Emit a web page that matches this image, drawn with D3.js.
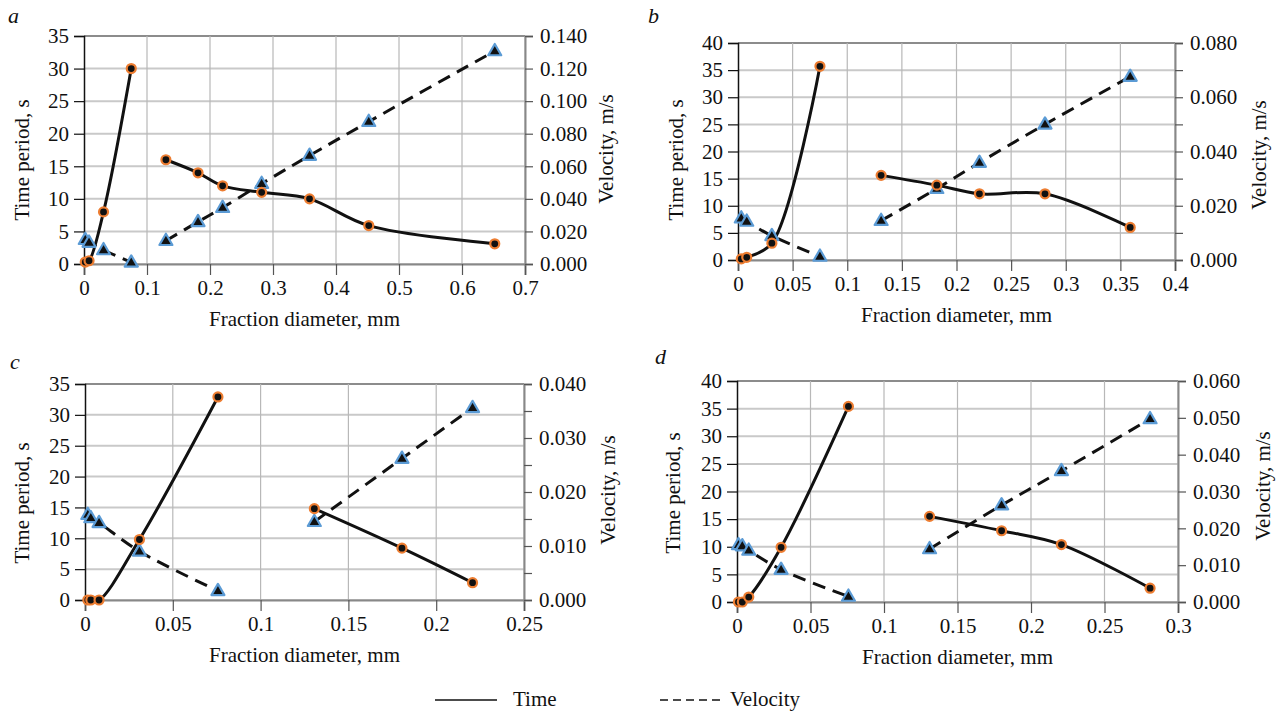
<!DOCTYPE html>
<html><head><meta charset="utf-8">
<script src="https://cdn.jsdelivr.net/npm/d3@7"></script>
<style>body{margin:0;background:#fff}svg{display:block}
svg text{font-family:"Liberation Serif","Tinos","Times New Roman","Nimbus Roman","DejaVu Serif",serif !important;fill:#111}</style>
</head><body><svg id="chart" width="1279" height="713"></svg>
<script>
// ---------- data ----------
const diameterA = [0.002, 0.008, 0.031, 0.075, 0.130, 0.181, 0.220, 0.282, 0.358, 0.452, 0.652];
const timeA     = [0.3, 0.5, 8, 30, 16, 14, 12, 11, 10, 5.9, 3.1];
const velocityA = [0.0149, 0.0132, 0.0086, 0.0010, 0.0143, 0.0259, 0.0346, 0.0493, 0.0666, 0.0874, 0.1308];
const fineCountA = 4;

const diameterB = [0.003, 0.008, 0.031, 0.075, 0.131, 0.182, 0.221, 0.281, 0.359];
const timeB     = [0.2, 0.5, 3.1, 35.7, 15.6, 13.8, 12.2, 12.2, 6.0];
const velocityB = [0.0154, 0.0142, 0.0089, 0.0013, 0.0145, 0.0263, 0.0359, 0.0500, 0.0676];
const fineCountB = 4;

const diameterC = [0.0016, 0.0033, 0.008, 0.031, 0.0757, 0.1306, 0.1805, 0.2207];
const timeC     = [0, 0, 0, 9.8, 32.9, 14.8, 8.4, 2.8];
const velocityC = [0.0158, 0.0152, 0.0143, 0.0090, 0.0017, 0.0145, 0.0262, 0.0356];
const fineCountC = 5;

const diameterD = [0.001, 0.0036, 0.008, 0.030, 0.0758, 0.131, 0.180, 0.2207, 0.281];
const timeD     = [0, 0, 0.9, 9.9, 35.4, 15.5, 12.9, 10.4, 2.5];
const velocityD = [0.0155, 0.0152, 0.0140, 0.0088, 0.0015, 0.0144, 0.0263, 0.0356, 0.0497];
const fineCountD = 5;

const xTicksA = [0, 0.1, 0.2, 0.3, 0.4, 0.5, 0.6, 0.7];
const xTicksB = [0, 0.05, 0.1, 0.15, 0.2, 0.25, 0.3, 0.35, 0.4];
const xTicksC = [0, 0.05, 0.1, 0.15, 0.2, 0.25];
const xTicksD = [0, 0.05, 0.1, 0.15, 0.2, 0.25, 0.3];
const timeTicksA = [0, 5, 10, 15, 20, 25, 30, 35];
const timeTicksB = [0, 5, 10, 15, 20, 25, 30, 35, 40];
const velTicksA = [0, 0.02, 0.04, 0.06, 0.08, 0.10, 0.12, 0.14];
const velLabelsA = velTicksA;
const velTicksB = [0, 0.01, 0.02, 0.03, 0.04, 0.05, 0.06, 0.07, 0.08];
const velLabelsB = [0, 0.02, 0.04, 0.06, 0.08];
const velTicksC = [0, 0.005, 0.01, 0.015, 0.02, 0.025, 0.03, 0.035, 0.04];
const velLabelsC = [0, 0.01, 0.02, 0.03, 0.04];
const velTicksD = [0, 0.01, 0.02, 0.03, 0.04, 0.05, 0.06];
const velLabelsD = velTicksD;

const xTitle = "Fraction diameter, mm";
const yTitle = "Time period, s";
const y2Title = "Velocity, m/s";
const legendLabels = ["Time", "Velocity"];

// ---------- layout ----------
const panels = [
  {tag:"a", x:diameterA, t:timeA, v:velocityA, fine:fineCountA, xt:xTicksA, tt:timeTicksA, vt:velTicksA, vl:velLabelsA,
   L:84, R:525, T:36, B:264, tagX:8, tagY:23, yT:[22,160], y2T:[606,149]},
  {tag:"b", x:diameterB, t:timeB, v:velocityB, fine:fineCountB, xt:xTicksB, tt:timeTicksB, vt:velTicksB, vl:velLabelsB,
   L:738, R:1175, T:43, B:260, tagX:648, tagY:23, yT:[676,160], y2T:[1259,155]},
  {tag:"c", x:diameterC, t:timeC, v:velocityC, fine:fineCountC, xt:xTicksC, tt:timeTicksA, vt:velTicksC, vl:velLabelsC,
   L:85, R:524, T:384, B:600, tagX:10, tagY:369, yT:[22,503], y2T:[608,490]},
  {tag:"d", x:diameterD, t:timeD, v:velocityD, fine:fineCountD, xt:xTicksD, tt:timeTicksB, vt:velTicksD, vl:velLabelsD,
   L:737, R:1178, T:381, B:602, tagX:655, tagY:364, yT:[673,493], y2T:[1263,486]}
];

const svg = d3.select("#chart");
const FONT = '"Liberation Serif", "Tinos", "Times New Roman", "DejaVu Serif", serif';
const FS = 21;
const fmtX = d => d === 0 ? "0" : String(+d.toFixed(2));
const fmtV = d3.format(".3f");

function styleText(sel) {
  sel.style("font-family", FONT).style("font-size", FS + "px").attr("fill", "#111");
}

function trianglePath(cx, cy, s) {
  const h = s * Math.sqrt(3) / 2;
  return `M${cx},${cy - h*0.62}L${cx + s/2},${cy + h*0.38}L${cx - s/2},${cy + h*0.38}Z`;
}

panels.forEach(p => {
  const g = svg.append("g");
  const xs = d3.scaleLinear().domain([p.xt[0], p.xt[p.xt.length-1]]).range([p.L, p.R]);
  const ys = d3.scaleLinear().domain([0, p.tt[p.tt.length-1]]).range([p.B, p.T]);
  const vs = d3.scaleLinear().domain([0, p.vt[p.vt.length-1]]).range([p.B, p.T]);

  // grid
  g.selectAll(".hg").data(p.tt).join("line")
    .attr("x1", p.L).attr("x2", p.R).attr("y1", d => ys(d)).attr("y2", d => ys(d))
    .attr("stroke", (d,i) => i === p.tt.length-1 ? "#8c8c8c" : "#c9c9c9").attr("stroke-width", 2);
  g.selectAll(".vg").data(p.xt.slice(1)).join("line")
    .attr("x1", d => xs(d)).attr("x2", d => xs(d)).attr("y1", p.T).attr("y2", p.B)
    .attr("stroke", "#b8b8b8").attr("stroke-width", 1.2);

  // bottom axis
  const xAxis = d3.axisBottom(xs).tickValues(p.xt).tickFormat(fmtX).tickSize(11).tickPadding(5);
  const gx = g.append("g").attr("transform", `translate(0,${p.B})`).call(xAxis);
  gx.select(".domain").attr("stroke", "#888").attr("stroke-width", 2);
  gx.selectAll(".tick line").attr("stroke", "#555").attr("stroke-width", 1.2);
  gx.selectAll("text").call(styleText);

  // left axis
  const yAxis = d3.axisLeft(ys).tickValues(p.tt).tickSize(10).tickPadding(5);
  const gy = g.append("g").attr("transform", `translate(${p.L},0)`).call(yAxis);
  gy.select(".domain").attr("stroke", "#111").attr("stroke-width", 1.5);
  gy.selectAll(".tick line").attr("stroke", "#111").attr("stroke-width", 1.2);
  gy.selectAll("text").call(styleText);

  // right axis
  const vAxis = d3.axisRight(vs).tickValues(p.vt).tickSize(8).tickPadding(7)
    .tickFormat(d => p.vl.some(l => Math.abs(l - d) < 1e-9) ? fmtV(d) : "");
  const gv = g.append("g").attr("transform", `translate(${p.R},0)`).call(vAxis);
  gv.select(".domain").attr("stroke", "#888").attr("stroke-width", 2);
  gv.selectAll(".tick line").attr("stroke", "#555").attr("stroke-width", 1.2);
  gv.selectAll("text").call(styleText);

  // titles
  g.append("text").attr("x", (p.L + p.R)/2).attr("y", p.B + 62).attr("text-anchor", "middle")
    .text(xTitle).call(styleText);
  g.append("text").attr("transform", `translate(${p.yT[0]},${p.yT[1]}) rotate(-90)`)
    .attr("text-anchor", "middle").attr("dominant-baseline", "central").text(yTitle).call(styleText);
  g.append("text").attr("transform", `translate(${p.y2T[0]},${p.y2T[1]}) rotate(-90)`)
    .attr("text-anchor", "middle").attr("dominant-baseline", "central").text(y2Title).call(styleText);
  g.append("text").attr("x", p.tagX).attr("y", p.tagY).text(p.tag).call(styleText)
    .style("font-style", "italic").style("font-size", (FS + 1) + "px");

  // series
  const pts = p.x.map((x, i) => ({x, t: p.t[i], v: p.v[i], grp: i < p.fine ? 0 : 1}));
  const groups = [pts.filter(d => d.grp === 0), pts.filter(d => d.grp === 1)];
  const lineT = d3.line().x(d => xs(d.x)).y(d => ys(d.t)).curve(d3.curveCatmullRom.alpha(0.5));
  const lineV = d3.line().x(d => xs(d.x)).y(d => vs(d.v)).curve(d3.curveCatmullRom.alpha(0.5));

  groups.forEach(gr => {
    g.append("path").attr("d", lineV(gr)).attr("fill", "none").attr("stroke", "#111")
      .attr("stroke-width", 3).attr("stroke-dasharray", "13,8");
    g.append("path").attr("d", lineT(gr)).attr("fill", "none").attr("stroke", "#111")
      .attr("stroke-width", 3);
  });

  g.selectAll(".tri").data(pts).join("path")
    .attr("d", d => trianglePath(xs(d.x), vs(d.v), 13))
    .attr("fill", "#111").attr("stroke", "#5b9bd5").attr("stroke-width", 2.2).attr("stroke-linejoin", "round");
  g.selectAll(".cir").data(pts).join("circle")
    .attr("cx", d => xs(d.x)).attr("cy", d => ys(d.t)).attr("r", 4.5)
    .attr("fill", "#111").attr("stroke", "#ed7d31").attr("stroke-width", 2.2);
});

// legend
const leg = svg.append("g");
leg.append("line").attr("x1", 435).attr("x2", 497).attr("y1", 700).attr("y2", 700).attr("stroke", "#111").attr("stroke-width", 1.5);
leg.append("text").attr("x", 513).attr("y", 706).text(legendLabels[0]).call(styleText);
leg.append("line").attr("x1", 660).attr("x2", 722).attr("y1", 700).attr("y2", 700).attr("stroke", "#111").attr("stroke-width", 1.5).attr("stroke-dasharray", "8,5");
leg.append("text").attr("x", 730).attr("y", 706).text(legendLabels[1]).call(styleText);
</script></body></html>
